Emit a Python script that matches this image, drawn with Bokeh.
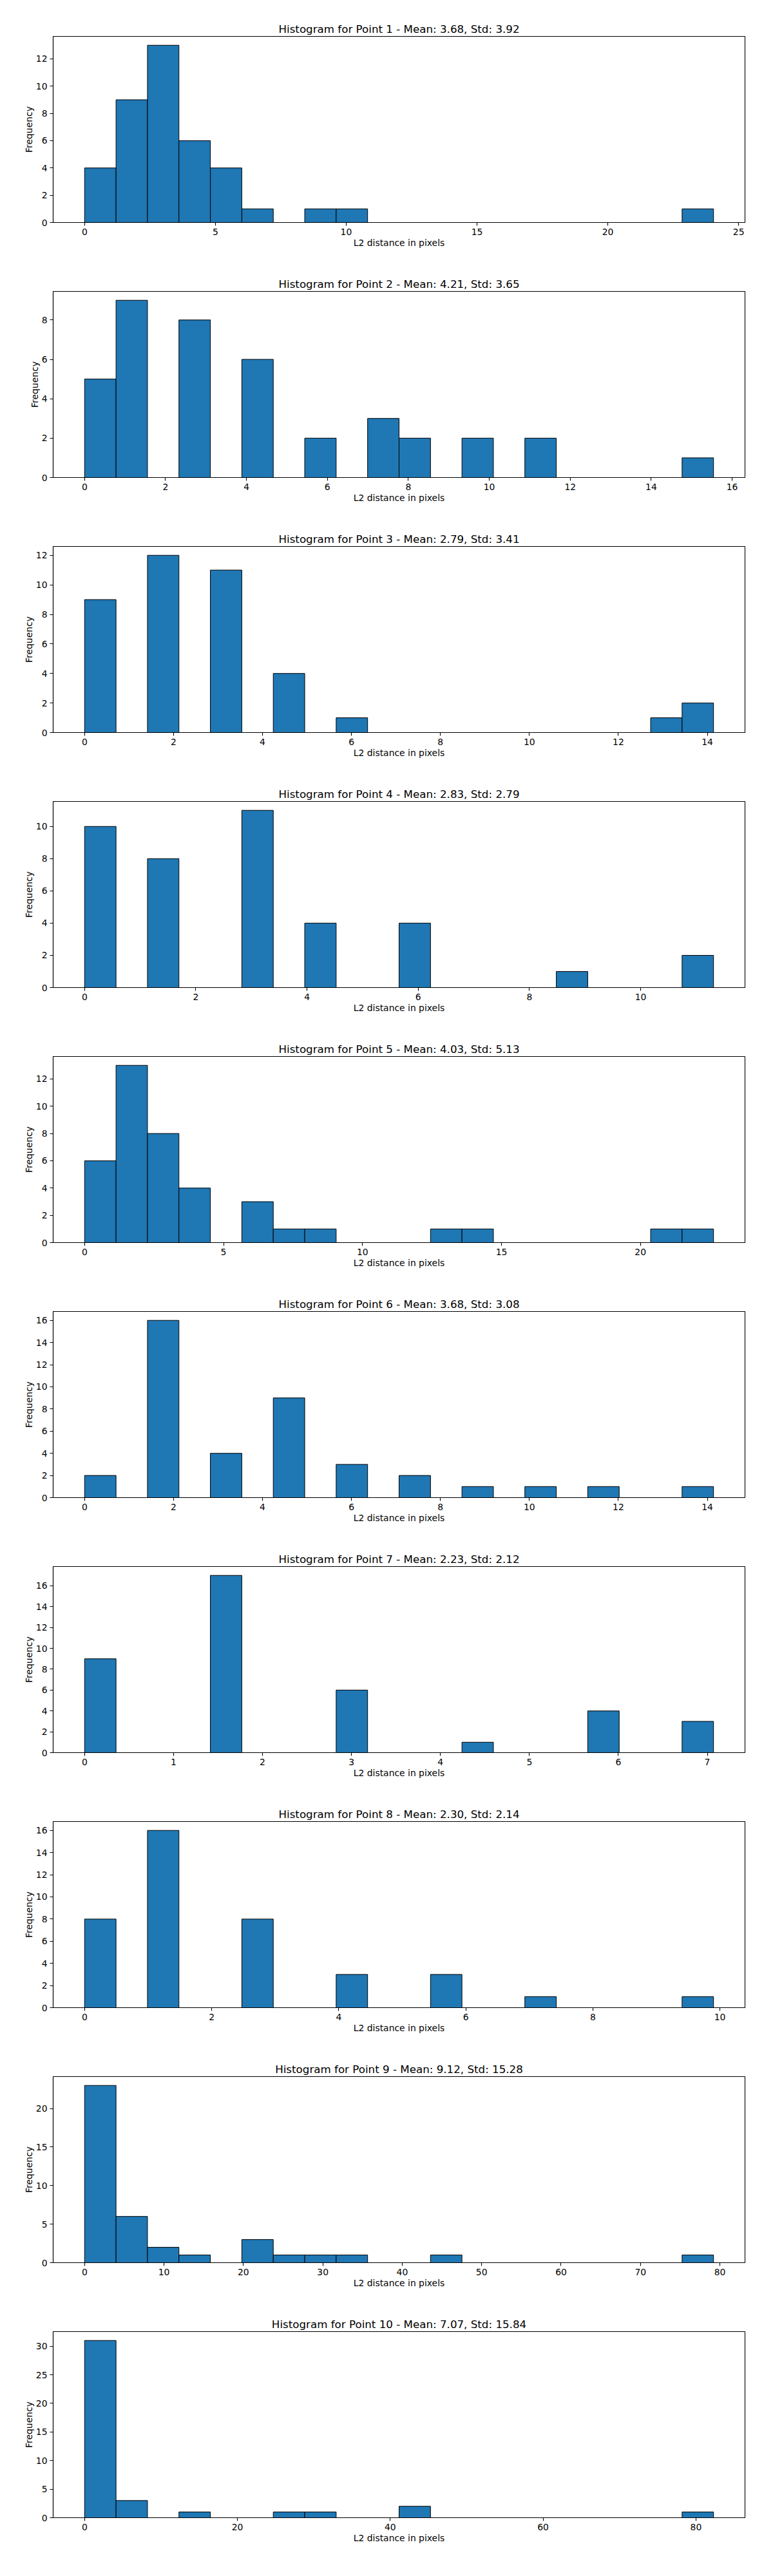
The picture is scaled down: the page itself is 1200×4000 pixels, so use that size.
from bokeh.plotting import figure
from bokeh.models import Range1d, FixedTicker, Title
from bokeh.layouts import column
from bokeh.embed import file_html
from bokeh.resources import INLINE

# ---- data ----
points = [1, 2, 3, 4, 5, 6, 7, 8, 9, 10]
means = [3.68, 4.21, 2.79, 2.83, 4.03, 3.68, 2.23, 2.30, 9.12, 7.07]
stds = [3.92, 3.65, 3.41, 2.79, 5.13, 3.08, 2.12, 2.14, 15.28, 15.84]

# histogram range (min and max distance) per point, 20 equal bins
x_min = [0.0, 0.0, 0.0, 0.0, 0.0, 0.0, 0.0, 0.0, 0.0, 0.0]
x_max = [24.04, 15.54, 14.14, 11.31, 22.63, 14.14, 7.07, 9.90, 79.2, 82.3]

counts_p1 = [4, 9, 13, 6, 4, 1, 0, 1, 1, 0, 0, 0, 0, 0, 0, 0, 0, 0, 0, 1]
counts_p2 = [5, 9, 0, 8, 0, 6, 0, 2, 0, 3, 2, 0, 2, 0, 2, 0, 0, 0, 0, 1]
counts_p3 = [9, 0, 12, 0, 11, 0, 4, 0, 1, 0, 0, 0, 0, 0, 0, 0, 0, 0, 1, 2]
counts_p4 = [10, 0, 8, 0, 0, 11, 0, 4, 0, 0, 4, 0, 0, 0, 0, 1, 0, 0, 0, 2]
counts_p5 = [6, 13, 8, 4, 0, 3, 1, 1, 0, 0, 0, 1, 1, 0, 0, 0, 0, 0, 1, 1]
counts_p6 = [2, 0, 16, 0, 4, 0, 9, 0, 3, 0, 2, 0, 1, 0, 1, 0, 1, 0, 0, 1]
counts_p7 = [9, 0, 0, 0, 17, 0, 0, 0, 6, 0, 0, 0, 1, 0, 0, 0, 4, 0, 0, 3]
counts_p8 = [8, 0, 16, 0, 0, 8, 0, 0, 3, 0, 0, 3, 0, 0, 1, 0, 0, 0, 0, 1]
counts_p9 = [23, 6, 2, 1, 0, 3, 1, 1, 1, 0, 0, 1, 0, 0, 0, 0, 0, 0, 0, 1]
counts_p10 = [31, 3, 0, 1, 0, 0, 1, 1, 0, 0, 2, 0, 0, 0, 0, 0, 0, 0, 0, 1]
counts = [counts_p1, counts_p2, counts_p3, counts_p4, counts_p5,
          counts_p6, counts_p7, counts_p8, counts_p9, counts_p10]

x_ticks = [
    [0, 5, 10, 15, 20, 25],
    [0, 2, 4, 6, 8, 10, 12, 14, 16],
    [0, 2, 4, 6, 8, 10, 12, 14],
    [0, 2, 4, 6, 8, 10],
    [0, 5, 10, 15, 20],
    [0, 2, 4, 6, 8, 10, 12, 14],
    [0, 1, 2, 3, 4, 5, 6, 7],
    [0, 2, 4, 6, 8, 10],
    [0, 10, 20, 30, 40, 50, 60, 70, 80],
    [0, 20, 40, 60, 80],
]
y_ticks = [
    [0, 2, 4, 6, 8, 10, 12],
    [0, 2, 4, 6, 8],
    [0, 2, 4, 6, 8, 10, 12],
    [0, 2, 4, 6, 8, 10],
    [0, 2, 4, 6, 8, 10, 12],
    [0, 2, 4, 6, 8, 10, 12, 14, 16],
    [0, 2, 4, 6, 8, 10, 12, 14, 16],
    [0, 2, 4, 6, 8, 10, 12, 14, 16],
    [0, 5, 10, 15, 20],
    [0, 5, 10, 15, 20, 25, 30],
]

x_label = "L2 distance in pixels"
y_label = "Frequency"

FONT = "DejaVu Sans"
BAR = "#1f77b4"
N_BINS = 20

figs = []
for i, pt in enumerate(points):
    lo, hi = x_min[i], x_max[i]
    span = hi - lo
    w = span / N_BINS
    lefts = [lo + k * w for k in range(N_BINS)]
    rights = [lo + (k + 1) * w for k in range(N_BINS)]
    c = counts[i]
    p = figure(width=1184, height=396, output_backend="svg", toolbar_location=None,
               x_range=Range1d(lo - 0.05 * span, hi + 0.05 * span),
               y_range=Range1d(0, 1.05 * max(c)),
               min_border_left=82, min_border_right=28,
               min_border_top=56, min_border_bottom=51)
    p.title = Title(text=f"Histogram for Point {pt} - Mean: {means[i]:.2f}, Std: {stds[i]:.2f}",
                    align="center", text_font=FONT, text_font_size="16.7px",
                    text_font_style="normal", text_color="black", standoff=4)
    p.quad(left=lefts, right=rights, bottom=0, top=c,
           fill_color=BAR, line_color="black", line_width=1)
    p.xgrid.visible = False
    p.ygrid.visible = False
    p.outline_line_color = "black"
    p.outline_line_width = 1.1
    p.outline_line_alpha = 1.0
    p.xaxis.ticker = FixedTicker(ticks=x_ticks[i])
    p.yaxis.ticker = FixedTicker(ticks=y_ticks[i])
    p.xaxis.axis_label = x_label
    p.yaxis.axis_label = y_label
    for ax in (p.xaxis[0], p.yaxis[0]):
        ax.axis_line_color = "black"
        ax.axis_line_width = 1.1
        ax.major_tick_line_color = "black"
        ax.major_tick_line_width = 1.1
        ax.major_tick_out = 5
        ax.major_tick_in = 0
        ax.minor_tick_line_color = None
        ax.major_label_text_font = FONT
        ax.major_label_text_font_size = "13.9px"
        ax.major_label_text_color = "black"
        ax.axis_label_text_font = FONT
        ax.axis_label_text_font_size = "13.9px"
        ax.axis_label_text_font_style = "normal"
        ax.axis_label_text_color = "black"
    p.xaxis.major_label_standoff = 4
    p.xaxis.axis_label_standoff = 1
    p.yaxis.major_label_standoff = 4
    p.yaxis.axis_label_standoff = 0
    figs.append(p)

layout = column(*figs, spacing=0)
open("out.html", "w").write(file_html(layout, INLINE))
